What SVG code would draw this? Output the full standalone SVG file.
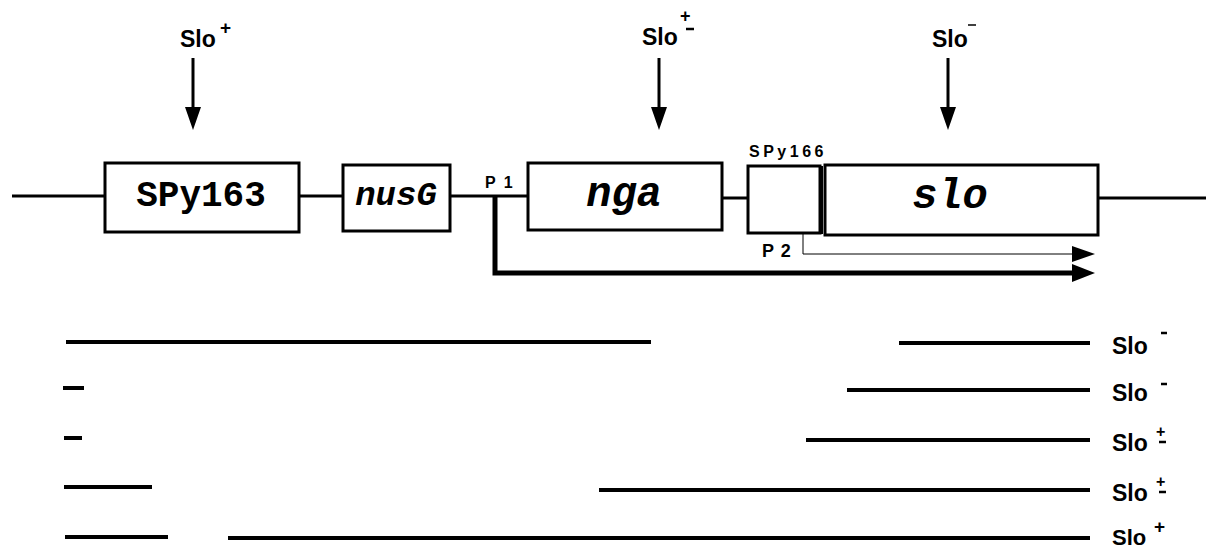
<svg xmlns="http://www.w3.org/2000/svg" width="1206" height="551" viewBox="0 0 1206 551">
<style>
.box{fill:#fff;stroke:#000;stroke-width:3}
.ln{stroke:#000;stroke-width:3;fill:none}
.frag{stroke:#000;stroke-width:4;fill:none}
.lab{font-family:"Liberation Sans",Arial,sans-serif;font-weight:bold;fill:#000}
.gene{font-family:"Liberation Mono","Courier New",monospace;font-weight:bold;fill:#000;text-anchor:middle}
.it{font-style:italic}
.sup{stroke:#000;stroke-width:2.5}
</style>
<rect width="1206" height="551" fill="#fff"/>
<g id="connectors">
<line class="ln" x1="12" y1="196" x2="106" y2="196"/>
<line class="ln" x1="300" y1="196" x2="343" y2="196"/>
<line class="ln" x1="450" y1="196" x2="528" y2="196"/>
<line class="ln" x1="722" y1="198" x2="748" y2="198"/>
<line class="ln" x1="1098" y1="198" x2="1206" y2="198"/>
<path d="M495 195 V273 H1076" stroke="#000" stroke-width="5" fill="none"/>
<polygon points="1072,264 1095,273 1072,282" fill="#000"/>
<path d="M803 233 V254 H1076" stroke="#000" stroke-width="1" fill="none"/>
<polygon points="1072,246 1095,254 1072,262" fill="#000"/>
<line class="ln" x1="193" y1="58" x2="193" y2="110"/>
<polygon points="185,107 201,107 193,130" fill="#000"/>
<line class="ln" x1="659" y1="58" x2="659" y2="110"/>
<polygon points="651,107 667,107 659,130" fill="#000"/>
<line class="ln" x1="948" y1="58" x2="948" y2="110"/>
<polygon points="940,107 956,107 948,130" fill="#000"/>
</g>
<g id="SPy163"><rect class="box" x="105" y="163" width="194" height="69"/><text class="gene" x="201" y="206" font-size="36">SPy163</text></g>
<g id="nusG"><rect class="box" x="343" y="165" width="107" height="66"/><text class="gene it" x="396" y="205" font-size="34">nusG</text></g>
<g id="nga"><rect class="box" x="528" y="163" width="194" height="67"/><text class="gene it" x="624" y="206" font-size="42">nga</text></g>
<g id="SPy166"><rect class="box" x="748" y="166" width="72" height="67"/><text class="lab" x="749" y="157" font-size="16" letter-spacing="3.5">SPy166</text></g>
<g id="slo"><rect class="box" x="825" y="165" width="273" height="70"/><line x1="822" y1="166" x2="822" y2="234" stroke="#000" stroke-width="2"/><text class="gene it" x="950" y="208" font-size="42">slo</text></g>
<g id="P1"><text class="lab" x="485" y="188" font-size="16" letter-spacing="2">P 1</text></g>
<g id="P2"><text class="lab" x="762" y="257" font-size="18" letter-spacing="1">P 2</text></g>
<g id="top-labels">
<text class="lab" x="180" y="47" font-size="23">Slo</text><text class="lab" x="220" y="34" font-size="19">+</text>
<text class="lab" x="642" y="45" font-size="23">Slo</text><text class="lab" x="680" y="22" font-size="18">+</text><line class="sup" x1="686" y1="29" x2="694" y2="29"/>
<text class="lab" x="932" y="47" font-size="23">Slo</text><line x1="968" y1="25" x2="976" y2="25" stroke="#000" stroke-width="1.5"/>
</g>
<g id="fragments">
<line class="frag" x1="66" y1="342" x2="651" y2="342"/><line class="frag" x1="899" y1="343" x2="1090" y2="343"/>
<line class="frag" x1="63" y1="388" x2="84" y2="388"/><line class="frag" x1="847" y1="390" x2="1090" y2="390"/>
<line class="frag" x1="64" y1="438" x2="82" y2="438"/><line class="frag" x1="806" y1="440" x2="1090" y2="440"/>
<line class="frag" x1="64" y1="487" x2="152" y2="487"/><line class="frag" x1="599" y1="490" x2="1090" y2="490"/>
<line class="frag" x1="65" y1="537" x2="168" y2="537"/><line class="frag" x1="228" y1="538" x2="1090" y2="538"/>
</g>
<g id="fragment-labels">
<text class="lab" x="1112" y="354" font-size="23">Slo</text><line class="sup" x1="1161" y1="333" x2="1167" y2="333"/>
<text class="lab" x="1112" y="401" font-size="23">Slo</text><line class="sup" x1="1161" y1="384" x2="1167" y2="384"/>
<text class="lab" x="1112" y="451" font-size="23">Slo</text><text class="lab" x="1156" y="437" font-size="16">+</text><line class="sup" x1="1159" y1="442" x2="1166" y2="442"/>
<text class="lab" x="1112" y="501" font-size="23">Slo</text><text class="lab" x="1156" y="487" font-size="16">+</text><line class="sup" x1="1159" y1="492" x2="1166" y2="492"/>
<text class="lab" x="1112" y="545" font-size="22">Slo</text><text class="lab" x="1154" y="533" font-size="19">+</text>
</g>
</svg>
